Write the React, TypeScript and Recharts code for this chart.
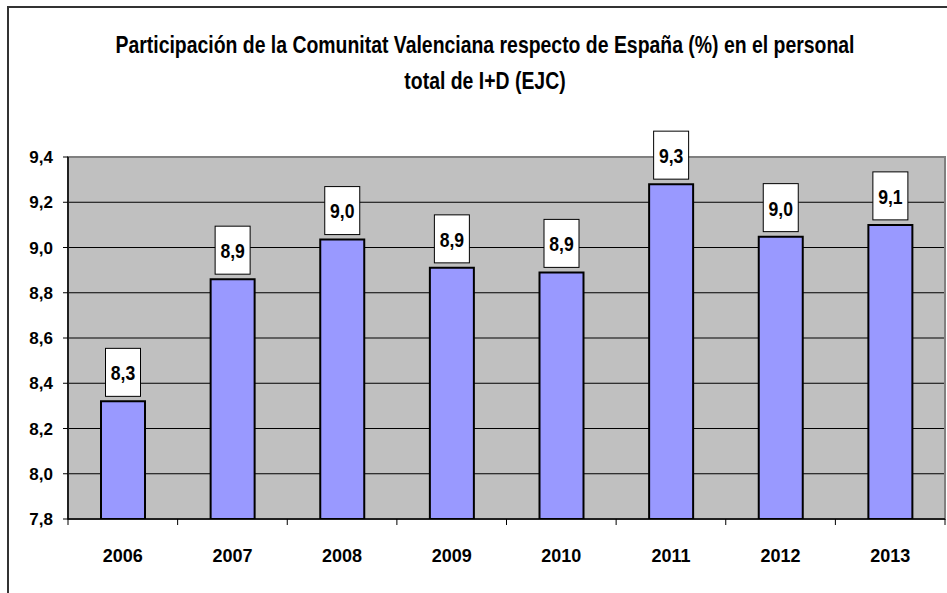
import { Bar, BarChart, CartesianGrid, LabelList, ReferenceArea, XAxis, YAxis } from 'recharts';

const years = ['2006', '2007', '2008', '2009', '2010', '2011', '2012', '2013'];
const share = [8.32, 8.86, 9.035, 8.91, 8.89, 9.28, 9.048, 9.1];
const yTicks = [7.8, 8.0, 8.2, 8.4, 8.6, 8.8, 9.0, 9.2, 9.4];
const titleLines = [
  'Participación de la Comunitat Valenciana respecto de España (%) en el personal',
  'total de I+D (EJC)',
];

const FONT = '"Liberation Sans", Arial, sans-serif';
const W = 947;
const H = 593;
const M = { top: 157, right: 2, bottom: 0, left: 0 };
const Y_W = 68;
const X_H = 74;
const band = (W - Y_W - M.right) / years.length;

const fmt = (v: number) => v.toFixed(1).replace('.', ',');

function XTick(props: any) {
  const { x, y, payload, index } = props;
  const axisY = y - 8;
  const left = x - band / 2;
  return (
    <g>
      <line x1={left} x2={left} y1={axisY} y2={axisY + 6} stroke="#000" />
      {index === years.length - 1 && (
        <line x1={left + band} x2={left + band} y1={axisY} y2={axisY + 6} stroke="#000" />
      )}
      <text
        x={x}
        y={axisY + 37}
        textAnchor="middle"
        dominantBaseline="central"
        fontFamily={FONT}
        fontWeight="bold"
        fontSize={18}
        fill="#000"
      >
        {payload.value}
      </text>
    </g>
  );
}

function ValueLabel(props: any) {
  const { x, y, width, value } = props;
  const cx = x + width / 2;
  const bw = 35;
  const bh = 48;
  const top = y - 5 - bh;
  return (
    <g>
      <rect x={cx - bw / 2} y={top} width={bw} height={bh} fill="#fff" stroke="#000" strokeWidth={1} />
      <text
        transform={`translate(${cx},${top + bh / 2 + 1}) scale(0.88,1)`}
        textAnchor="middle"
        dominantBaseline="central"
        fontFamily={FONT}
        fontWeight="bold"
        fontSize={20}
        fill="#000"
      >
        {fmt(value)}
      </text>
    </g>
  );
}

export default function App() {
  const data = years.map((year, i) => ({ year, value: share[i] }));
  return (
    <div style={{ position: 'absolute', left: 0, top: 0, width: W, height: H, background: '#fff', overflow: 'hidden' }}>
      <div
        style={{
          position: 'absolute',
          left: 7,
          top: 6,
          width: W,
          height: H,
          borderLeft: '2px solid #333',
          borderTop: '2px solid #333',
        }}
      />
      {titleLines.map((t, i) => (
        <div
          key={i}
          style={{
            position: 'absolute',
            left: 0,
            width: 970,
            top: 31 + i * 36,
            textAlign: 'center',
            fontFamily: FONT,
            fontWeight: 'bold',
            fontSize: 23,
            lineHeight: '28px',
            whiteSpace: 'nowrap',
            transform: 'scaleX(0.844)',
            transformOrigin: '485px 0',
          }}
        >
          {t}
        </div>
      ))}
      <div style={{ position: 'absolute', left: 0, top: 0 }}>
        <BarChart width={W} height={H} data={data} margin={M} barSize={44}>
          <CartesianGrid vertical={false} fill="#C0C0C0" stroke="#000" strokeOpacity={1} />
          <ReferenceArea y1={7.8} y2={9.4} fill="none" stroke="#808080" strokeWidth={2} ifOverflow="visible" />
          <XAxis
            dataKey="year"
            height={X_H}
            axisLine={{ stroke: '#000', strokeWidth: 1.5 }}
            tickLine={false}
            interval={0}
            tick={<XTick />}
          />
          <YAxis
            domain={[7.8, 9.4]}
            ticks={yTicks}
            allowDataOverflow
            width={Y_W}
            axisLine={{ stroke: '#000', strokeWidth: 1.5 }}
            tickLine={{ stroke: '#000' }}
            tickSize={5}
            tickMargin={10}
            tickFormatter={fmt}
            tick={{ fill: '#000', fontFamily: FONT, fontWeight: 'bold', fontSize: 17 }}
          />
          <Bar dataKey="value" fill="#9999FF" stroke="#000" strokeWidth={2} isAnimationActive={false}>
            <LabelList dataKey="value" content={<ValueLabel />} />
          </Bar>
        </BarChart>
      </div>
    </div>
  );
}
